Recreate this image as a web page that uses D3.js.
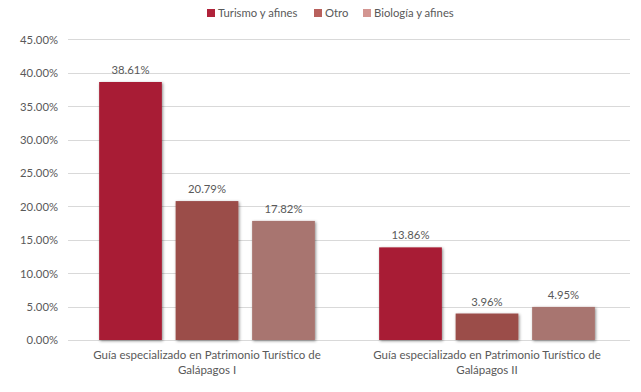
<!DOCTYPE html>
<html><head><meta charset="utf-8">
<script src="https://cdn.jsdelivr.net/npm/d3@7"></script>
<style>body{margin:0;background:#fff}svg{display:block}text{font-family:Lato,"Open Sans",sans-serif;fill:#595959}</style>
</head><body>
<script>
const categories = ["Guía especializado en Patrimonio Turístico de|Galápagos I", "Guía especializado en Patrimonio Turístico de|Galápagos II"];
const seriesNames = ["Turismo y afines", "Otro", "Biología y afines"];
const turismo = [38.61, 13.86];
const otro = [20.79, 3.96];
const biologia = [17.82, 4.95];
const yTicks = [0, 5, 10, 15, 20, 25, 30, 35, 40, 45];
const colors = ["#A81F35", "#9B4D4A", "#A8756F"];
const legendColors = ["#B0223A", "#B8605C", "#D39591"];

const W = 641, H = 392;
const svg = d3.select("body").append("svg").attr("width", W).attr("height", H);
const defs = svg.append("defs");
const f = defs.append("filter").attr("id","sh").attr("x","-20%").attr("y","-20%").attr("width","140%").attr("height","140%");
f.append("feDropShadow").attr("dx",1).attr("dy",1).attr("stdDeviation",1.5).attr("flood-color","#000").attr("flood-opacity",0.45);

const x0 = d3.scaleBand().domain(categories).range([67, 627]);
const x1 = d3.scaleBand().domain(seriesNames).range([0, x0.bandwidth()]).paddingInner(0.18).paddingOuter(0.42);
const y = d3.scaleLinear().domain([0, 45]).range([340, 39.3]);

svg.append("g").selectAll("line").data(yTicks).join("line")
  .attr("x1", 68).attr("x2", 630).attr("y1", d => Math.round(y(d))+0.5).attr("y2", d => Math.round(y(d))+0.5)
  .attr("stroke", "#D9D9D9").attr("stroke-width", 1);

const yAxis = d3.axisLeft(y).tickValues(yTicks).tickFormat(d => d.toFixed(2) + "%").tickSize(0).tickPadding(0);
const ya = svg.append("g").attr("transform", "translate(58,0)").call(yAxis);
ya.select(".domain").remove();
ya.selectAll("text").style("font-size", "11.3px").attr("fill", "#595959").attr("dy","0.35em");

const data = categories.map((c, i) => ({c, vals: [turismo[i], otro[i], biologia[i]]}));
const g = svg.append("g").selectAll("g").data(data).join("g").attr("transform", d => `translate(${x0(d.c)},0)`);
g.selectAll("rect").data(d => d.vals.map((v, j) => ({v, s: seriesNames[j], j}))).join("rect")
  .attr("x", d => x1(d.s)).attr("width", x1.bandwidth())
  .attr("y", d => y(d.v)).attr("height", d => y(0) - y(d.v))
  .attr("fill", d => colors[d.j]).attr("filter", "url(#sh)");
g.selectAll("text.lbl").data(d => d.vals.map((v, j) => ({v, s: seriesNames[j], j}))).join("text")
  .attr("class","lbl")
  .attr("x", d => x1(d.s) + x1.bandwidth()/2).attr("y", d => y(d.v) - 8)
  .attr("text-anchor","middle").style("font-size","11.3px").text(d => d.v.toFixed(2) + "%");

svg.append("g").selectAll("text").data(categories).join("text")
  .attr("text-anchor","middle").style("font-size","11.5px")
  .attr("transform", d => `translate(${x0(d) + x0.bandwidth()/2},0)`)
  .each(function(d){
    const t = d3.select(this);
    d.split("|").forEach((line, k) => t.append("tspan").attr("x", 0).attr("y", 359 + k*15).text(line));
  });

const legX = [207, 314, 363];
const lg = svg.append("g").selectAll("g").data(seriesNames).join("g")
  .attr("transform", (d, i) => `translate(${legX[i]},0)`);
lg.append("rect").attr("x",0).attr("y",9).attr("width",8).attr("height",8).attr("fill",(d,i)=>legendColors[i]);
lg.append("text").attr("x",11).attr("y",17).style("font-size","11.3px").text(d => d);
</script>
</body></html>
